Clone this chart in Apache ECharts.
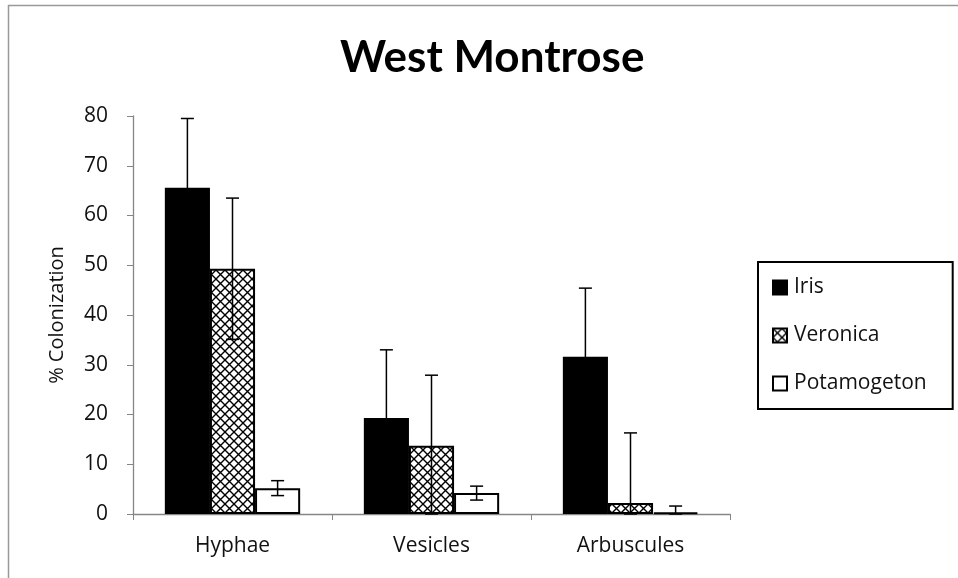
<!DOCTYPE html>
<html>
<head>
<meta charset="utf-8">
<script src="https://cdn.jsdelivr.net/npm/echarts@6/dist/echarts.min.js"></script>
<style>
    html, body { margin: 0; padding: 0; background: #fff; }
    #chart { width: 958px; height: 578px; }
</style>
</head>
<body>
<div id="chart"></div>
<script>
// data
var categories = ['Hyphae', 'Vesicles', 'Arbuscules'];
var seriesNames = ['Iris', 'Veronica', 'Potamogeton'];
var iris = [65.6, 19.3, 31.6];
var irisErr = [13.9, 13.7, 13.8];
var veronica = [49.3, 13.7, 2.2];
var veronicaErr = [14.2, 14.2, 14.1];
var potamogeton = [5.2, 4.2, 0.3];
var potamogetonErr = [1.5, 1.4, 1.3];
var yTicks = [0, 80, 10]; // min, max, interval

var FONT = 'Open Sans';
var catGap = 0.32;

// cross hatch for Veronica
function hatch() {
    var c = document.createElement('canvas');
    c.width = 9; c.height = 9;
    var ctx = c.getContext('2d');
    ctx.fillStyle = '#fff';
    ctx.fillRect(0, 0, 9, 9);
    ctx.strokeStyle = '#000';
    ctx.lineWidth = 1.4;
    ctx.beginPath();
    ctx.moveTo(0, 0); ctx.lineTo(9, 9);
    ctx.moveTo(9, 0); ctx.lineTo(0, 9);
    ctx.stroke();
    return c;
}

function errorSeries(values, errs, idx) {
    var data = values.map(function (v, i) {
        return [i, Math.max(0, v - errs[i]), v + errs[i]];
    });
    return {
        type: 'custom',
        z: 5,
        silent: true,
        data: data,
        encode: {x: 0, y: [1, 2]},
        renderItem: function (params, api) {
            var band = api.size([1, 0])[0];
            var barW = band * (1 - catGap) / 3;
            var lo = api.coord([api.value(0), api.value(1)]);
            var hi = api.coord([api.value(0), api.value(2)]);
            var x = lo[0] + (idx - 1) * barW;
            var half = 6.5;
            var st = {stroke: '#000', lineWidth: 1.5};
            return {
                type: 'group',
                children: [
                    {type: 'line', shape: {x1: x, y1: lo[1], x2: x, y2: hi[1]}, style: st},
                    {type: 'line', shape: {x1: x - half, y1: hi[1], x2: x + half, y2: hi[1]}, style: st},
                    {type: 'line', shape: {x1: x - half, y1: lo[1], x2: x + half, y2: lo[1]}, style: st}
                ]
            };
        }
    };
}

var chart = echarts.init(document.getElementById('chart'));
var option = {
    animation: false,
    backgroundColor: '#fff',
    textStyle: {fontFamily: FONT},
    title: {
        text: 'West Montrose',
        left: 335,
        top: 31,
        textStyle: {fontFamily: 'Lato', fontWeight: 'bold', fontSize: 44, color: '#000'}
    },
    legend: {
        data: seriesNames,
        orient: 'vertical',
        icon: 'rect',
        left: 758,
        top: 262,
        padding: [15, 26, 15, 14],
        itemGap: 27,
        itemWidth: 14,
        itemHeight: 14,
        borderColor: '#000',
        borderWidth: 2,
        textStyle: {fontSize: 21, color: '#111', lineHeight: 20, padding: [0, 0, 0, 2]}
    },
    grid: {left: 133, right: 228, top: 116, bottom: 64},
    xAxis: {
        type: 'category',
        data: categories,
        axisLine: {lineStyle: {color: '#868686', width: 1.3}},
        axisTick: {show: true, length: 6, lineStyle: {color: '#868686'}},
        axisLabel: {fontSize: 21, color: '#111', margin: 22}
    },
    yAxis: {
        type: 'value',
        min: yTicks[0],
        max: yTicks[1],
        interval: yTicks[2],
        name: '% Colonization',
        nameLocation: 'middle',
        nameGap: 66,
        nameTextStyle: {fontSize: 20, color: '#111'},
        axisLine: {show: true, lineStyle: {color: '#868686', width: 1.3}},
        axisTick: {show: true, length: 6, lineStyle: {color: '#868686'}},
        axisLabel: {fontSize: 21, color: '#111', margin: 25},
        splitLine: {show: false}
    },
    graphic: [
        {type: 'line', shape: {x1: 8, y1: 5.5, x2: 958, y2: 5.5}, style: {stroke: '#999', lineWidth: 1.5}},
        {type: 'line', shape: {x1: 8.5, y1: 5, x2: 8.5, y2: 578}, style: {stroke: '#999', lineWidth: 1.5}}
    ],
    series: [
        {
            name: 'Iris', type: 'bar', data: iris,
            barGap: 0, barCategoryGap: (catGap * 100) + '%',
            itemStyle: {color: '#000', borderColor: '#000', borderWidth: 1.5}
        },
        {
            name: 'Veronica', type: 'bar', data: veronica,
            itemStyle: {color: {image: hatch(), repeat: 'repeat'}, borderColor: '#000', borderWidth: 2}
        },
        {
            name: 'Potamogeton', type: 'bar', data: potamogeton,
            itemStyle: {color: '#fff', borderColor: '#000', borderWidth: 2}
        },
        errorSeries(iris, irisErr, 0),
        errorSeries(veronica, veronicaErr, 1),
        errorSeries(potamogeton, potamogetonErr, 2)
    ]
};
chart.setOption(option);
</script>
</body>
</html>
